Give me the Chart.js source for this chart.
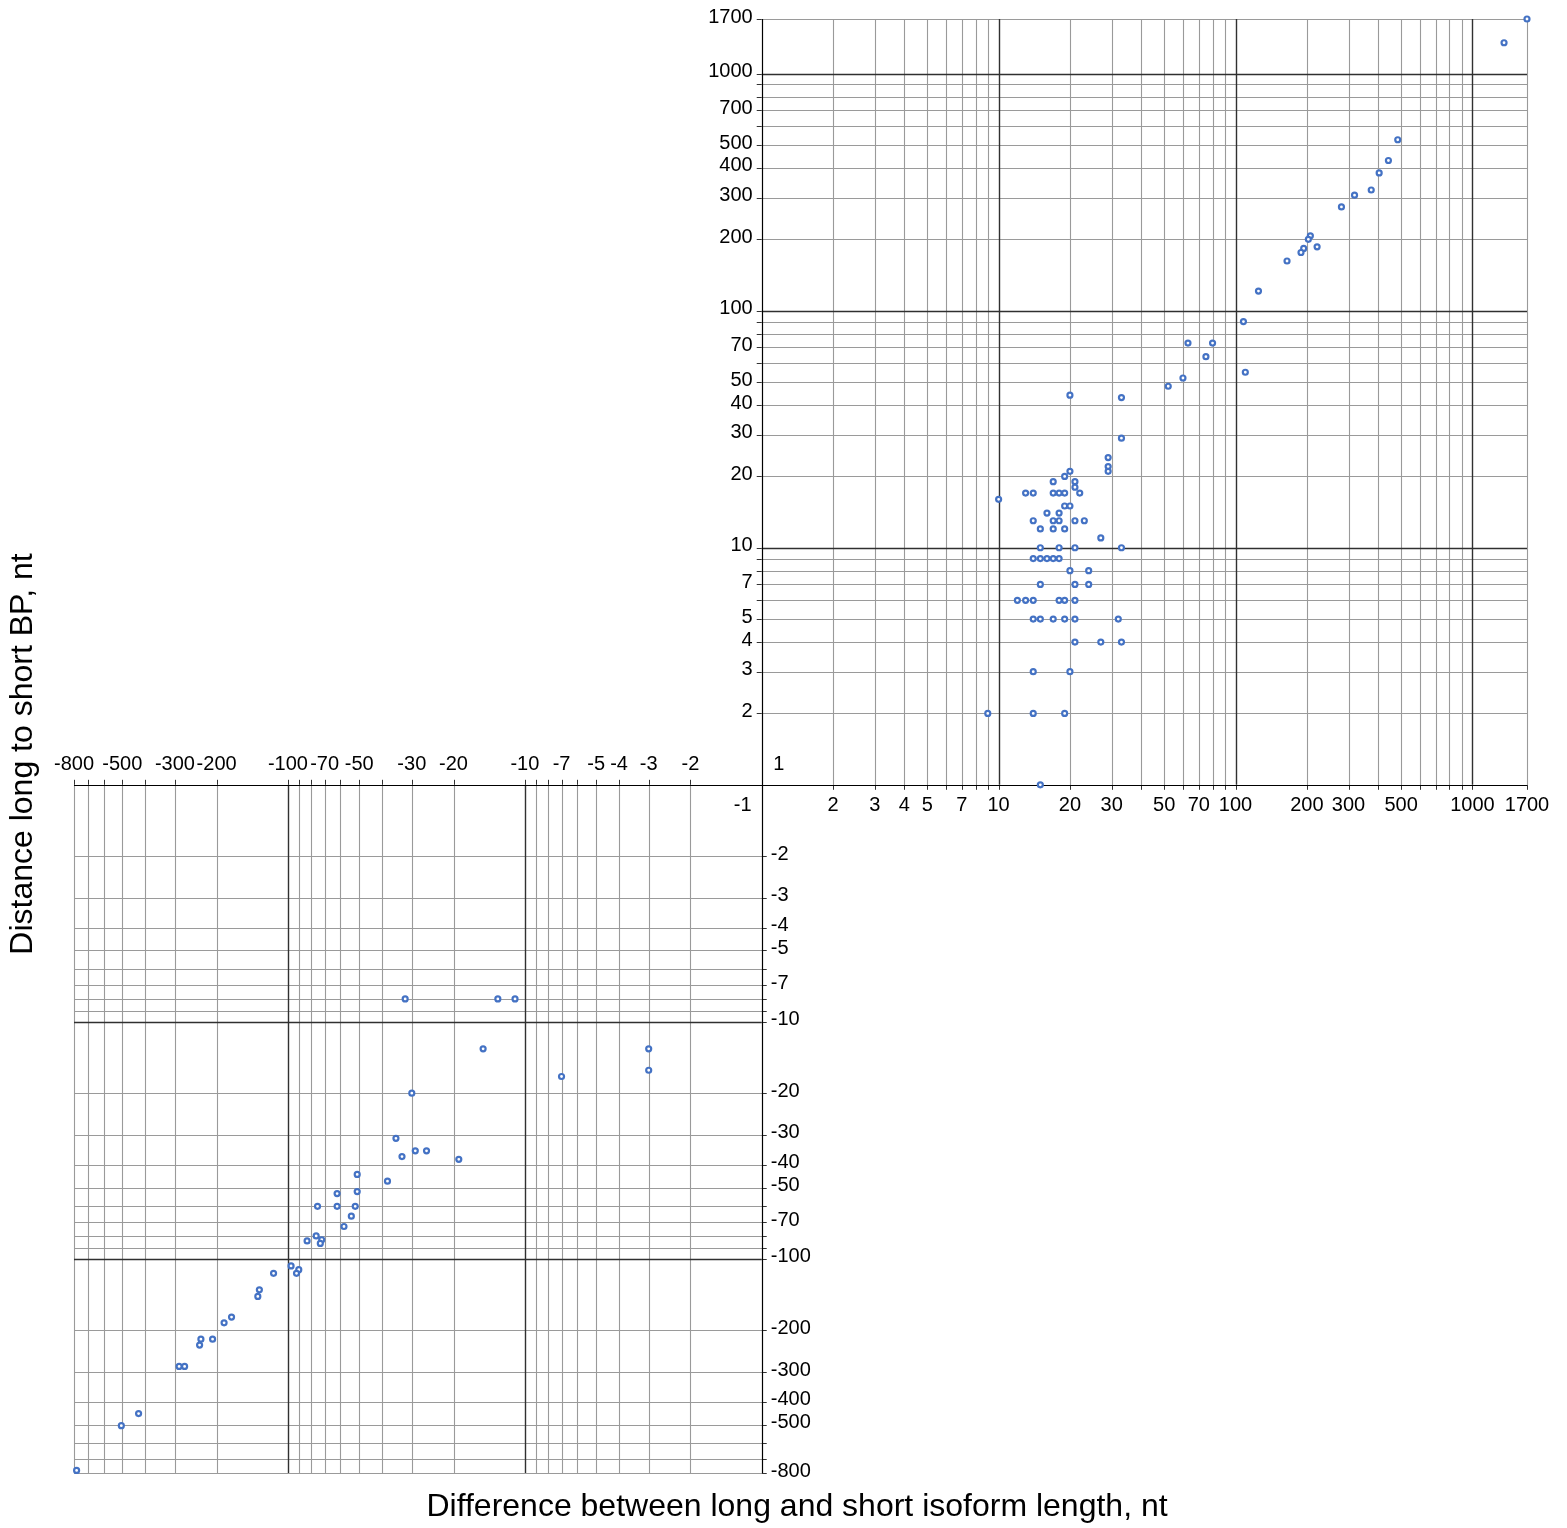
<!DOCTYPE html>
<html>
<head>
<meta charset="utf-8">
<script src="https://cdn.jsdelivr.net/npm/chart.js@4/dist/chart.umd.min.js"></script>
<style>
html,body{margin:0;padding:0;background:#fff;}
#wrap{position:relative;width:1567px;height:1528px;}
canvas{display:block;}
</style>
</head>
<body>
<div id="wrap"><canvas id="c" width="1567" height="1528"></canvas></div>
<script>
// ---- Data ----
const upperRightX = [1700,1360,484,442,404,374,318,280,221,207,203,194,189,165,125,108,110,80,63,75,60,52,
  20,33,33,29,29,29,20,19,21,21,22,13,14,17,17,18,19,19,20,16,18,14,17,18,21,23,15,17,19,27,10,
  15,18,21,33,14,15,16,17,18,20,24,15,21,24,12,13,14,18,19,21,14,15,17,19,21,32,21,27,33,14,20,9,14,19,15];
const upperRightY = [1700,1350,526,430,381,323,307,274,186,207,200,183,176,162,121,90,55,73,73,64,52,48,
  44,43,29,24,22,21,21,20,19,18,17,17,17,19,17,17,17,15,15,14,14,13,13,13,13,13,12,12,12,11,16,
  10,10,10,10,9,9,9,9,9,8,8,7,7,7,6,6,6,6,6,6,5,5,5,5,5,5,4,4,4,3,3,2,2,2,1];
const lowerLeftX = [-780,-505,-427,-288,-273,-236,-233,-208,-186,-173,-134,-132,-115,-97,-90,-92,
  -32,-13,-11,-15,-3,-3,-7,-30,-35,-33,-29,-26,-19,-51,-38,-51,-62,-75,-62,-52,-54,-58,-83,-76,-72,-73];
const lowerLeftY = [-780,-505,-449,-284,-284,-231,-218,-218,-186,-176,-144,-135,-115,-107,-111,-115,
  -8,-8,-8,-13,-13,-16,-17,-20,-31,-37,-35,-35,-38,-44,-47,-52,-53,-60,-60,-60,-66,-73,-84,-80,-83,-86];

const urXTickLabels = [2,3,4,5,7,10,20,30,50,70,100,200,300,500,1000,1700];
const urYTickLabels = [2,3,4,5,7,10,20,30,40,50,70,100,200,300,400,500,700,1000,1700];
const llXTickLabels = [-800,-500,-300,-200,-100,-70,-50,-30,-20,-10,-7,-5,-4,-3,-2];
const llYTickLabels = [-2,-3,-4,-5,-7,-10,-20,-30,-40,-50,-70,-100,-200,-300,-400,-500,-800];
const originLabels = ['1','-1'];
const xTitle = 'Difference between long and short isoform length, nt';
const yTitle = 'Distance long to short BP, nt';
const axisMax = 1700, axisMin = -800;

// ---- symmetric log scale ----
const tf = v => v === 0 ? 0 : Math.sign(v) * Math.log10(Math.max(Math.abs(v), 1));
const itf = t => t === 0 ? 0 : Math.sign(t) * Math.pow(10, Math.abs(t));
class SymLogScale extends Chart.Scale {
  determineDataLimits() { this.min = this.options.min; this.max = this.options.max; }
  buildTicks() { return [{value: this.min}, {value: this.max}]; }
  configure() { super.configure(); this._t0 = tf(this.min); this._t1 = tf(this.max); }
  getPixelForValue(v) { return this.getPixelForDecimal((tf(v) - this._t0) / (this._t1 - this._t0)); }
  getValueForPixel(p) { return itf(this._t0 + this.getDecimalForPixel(p) * (this._t1 - this._t0)); }
  getLabelForValue(v) { return String(v); }
}
SymLogScale.id = 'symlog';
SymLogScale.defaults = {};
Chart.register(SymLogScale);

function gridValues(maxAbs) {
  const out = [];
  for (let d = 1; d <= 1000; d *= 10) {
    for (let m = 1; m <= 9; m++) { const v = m * d; if (v > 1 && v < maxAbs) out.push(v); }
  }
  out.push(maxAbs);
  return out;
}

const FONT = '"Liberation Sans", Arial, sans-serif';

const quadPlugin = {
  id: 'quadGrid',
  beforeDatasetsDraw(chart) {
    const {ctx} = chart;
    const xs = chart.scales.x, ys = chart.scales.y;
    const ox = xs.getPixelForValue(1), oy = ys.getPixelForValue(1);
    const xR = xs.getPixelForValue(axisMax), yT = ys.getPixelForValue(axisMax);
    const xL = xs.getPixelForValue(axisMin), yB = ys.getPixelForValue(axisMin);
    const urGrid = gridValues(axisMax), llGrid = gridValues(-axisMin);
    const isMajor = v => [10,100,1000].includes(Math.abs(v));
    ctx.save();
    const line = (x1,y1,x2,y2,color,w) => {
      ctx.strokeStyle = color; ctx.lineWidth = w;
      ctx.beginPath(); ctx.moveTo(x1,y1); ctx.lineTo(x2,y2); ctx.stroke();
    };
    const snap = p => Math.round(p) + 0.5;
    for (const pass of [false, true]) {
      for (const v of urGrid) {
        if (isMajor(v) !== pass) continue;
        const c = pass ? '#303030' : '#9a9a9a', w = pass ? 1.4 : 1.1;
        const px = snap(xs.getPixelForValue(v)), py = snap(ys.getPixelForValue(v));
        line(px, yT, px, oy, c, w);
        line(ox, py, xR, py, c, w);
      }
      for (const v of llGrid) {
        if (isMajor(v) !== pass) continue;
        const c = pass ? '#303030' : '#9a9a9a', w = pass ? 1.4 : 1.1;
        const px = snap(xs.getPixelForValue(-v)), py = snap(ys.getPixelForValue(-v));
        line(px, oy, px, yB, c, w);
        line(xL, py, ox, py, c, w);
      }
    }
    for (const v of urGrid) {
      const px = snap(xs.getPixelForValue(v)), py = snap(ys.getPixelForValue(v));
      line(px, oy, px, oy + 5, '#333', 1);
      line(ox - 5, py, ox, py, '#333', 1);
    }
    for (const v of llGrid) {
      const px = snap(xs.getPixelForValue(-v)), py = snap(ys.getPixelForValue(-v));
      line(px, oy - 5, px, oy, '#333', 1);
      line(ox, py, ox + 5, py, '#333', 1);
    }
    line(xL, snap(oy), xR, snap(oy), '#000', 1.2);
    line(snap(ox), yT, snap(ox), yB, '#000', 1.2);

    ctx.fillStyle = '#000';
    ctx.font = '20px ' + FONT;
    ctx.textBaseline = 'middle';
    ctx.textAlign = 'right';
    for (const v of urYTickLabels) ctx.fillText(String(v), ox - 9, ys.getPixelForValue(v) - 2);
    ctx.textAlign = 'left';
    for (const v of llYTickLabels) ctx.fillText(String(v), ox + 9, ys.getPixelForValue(v) - 2);
    ctx.textAlign = 'center';
    for (const v of urXTickLabels) ctx.fillText(String(v), xs.getPixelForValue(v), oy + 21);
    for (const v of llXTickLabels) ctx.fillText(String(v), xs.getPixelForValue(v), oy - 20);
    ctx.fillText(originLabels[0], ox + 17, oy - 20);
    ctx.fillText(originLabels[1], ox - 19, oy + 21);

    ctx.font = '32px ' + FONT;
    ctx.fillText(xTitle, 797, 1507);
    ctx.save();
    ctx.translate(23, 754);
    ctx.rotate(-Math.PI / 2);
    ctx.fillText(yTitle, 0, 0);
    ctx.restore();
    ctx.restore();
  }
};

const points = upperRightX.map((x, i) => ({x, y: upperRightY[i]}))
  .concat(lowerLeftX.map((x, i) => ({x, y: lowerLeftY[i]})));

new Chart(document.getElementById('c'), {
  type: 'scatter',
  data: {
    datasets: [{
      data: points,
      pointRadius: 2.5,
      pointBorderWidth: 2.2,
      borderColor: '#4472C4',
      backgroundColor: '#ffffff',
      pointHoverRadius: 2.5,
      clip: false
    }]
  },
  options: {
    responsive: false,
    maintainAspectRatio: false,
    devicePixelRatio: 1,
    animation: false,
    layout: {padding: {left: 74, right: 40, top: 19, bottom: 55}},
    plugins: {legend: {display: false}, tooltip: {enabled: false}},
    scales: {
      x: {type: 'symlog', position: 'bottom', min: axisMin, max: axisMax, display: false},
      y: {type: 'symlog', position: 'left', min: axisMin, max: axisMax, display: false}
    }
  },
  plugins: [quadPlugin]
});
</script>
</body>
</html>
